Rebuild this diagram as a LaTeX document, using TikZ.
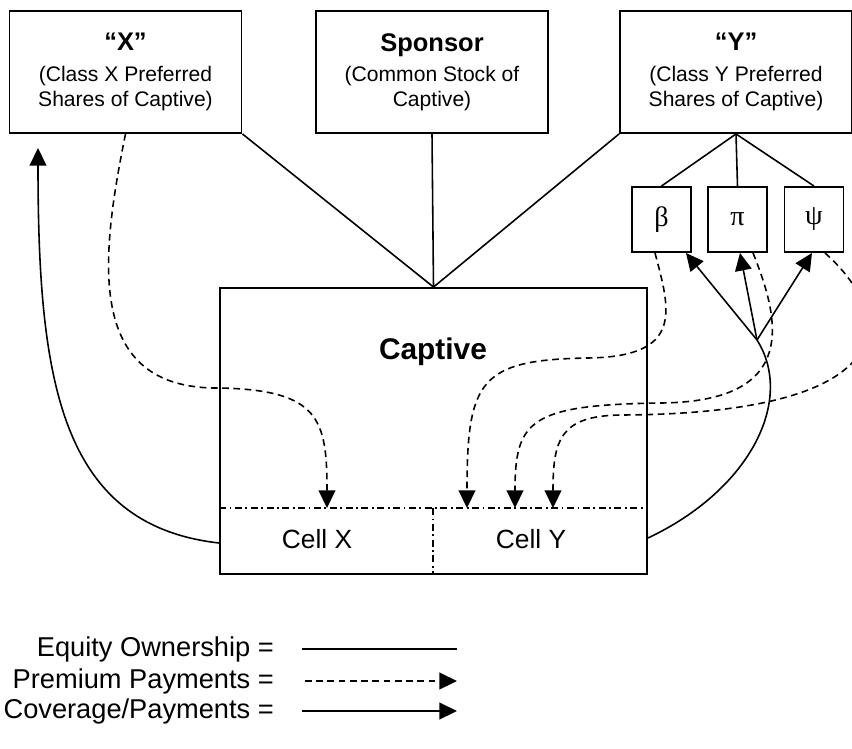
\documentclass[tikz,border=0pt]{standalone}
\usepackage{fontspec}
\setmainfont{Liberation Sans}
\newfontfamily\greekfont{Liberation Serif}
\usetikzlibrary{arrows.meta}

\tikzset{
    ownerbox/.style={draw, line width=1.1pt, minimum width=4.64cm, minimum height=2.44cm,
        align=center, font=\fontsize{12}{14.2}\selectfont},
    classbox/.style={draw, line width=1.1pt, minimum width=1.18cm, minimum height=1.3cm,
        font=\greekfont\fontsize{16}{19}\selectfont},
    equity/.style={line width=0.9pt},
    premium/.style={->, line width=0.9pt, dash pattern=on 3.8pt off 2.6pt},
    coverage/.style={->, line width=0.9pt},
    celldiv/.style={line width=0.7pt, dash pattern=on 4pt off 2pt on 1pt off 2pt},
}
\newcommand{\headfont}{\bfseries\fontsize{14.5}{17}\selectfont}

\begin{document}
\begin{tikzpicture}[x=0.02cm, y=-0.02cm, >={Triangle[length=10pt,width=9.5pt]},
        font=\fontsize{15}{18}\selectfont]
    \useasboundingbox (0,0) rectangle (852,748);

        % Owners
        \node[ownerbox] (X) at (125.5,72) {{\headfont “X”}\\[3pt] (Class X Preferred\\ Shares of Captive)};
        \node[ownerbox] (S) at (432,72) {{\headfont Sponsor}\\[3pt] (Common Stock of\\ Captive)};
        \node[ownerbox] (Y) at (736,72) {{\headfont “Y”}\\[3pt] (Class Y Preferred\\ Shares of Captive)};

        % Class Y holders
        \node[classbox] (beta) at (661.5,219.5) {β};
        \node[classbox] (pi) at (737.5,219.5) {π};
        \node[classbox] (psi) at (814,219.5) {ψ};

        % Captive and cells
        \node[draw, line width=1.1pt, minimum width=8.54cm, minimum height=5.72cm] (captive) at (433.5,431) {};
        \node[font=\bfseries\fontsize{17}{20}\selectfont] (captlab) at (433,352) {Captive};
        \coordinate (split) at (433,508);
        \draw[celldiv] (captive.west |- split) -- (captive.east |- split);
        \draw[celldiv] (split) -- (captive.south -| split);
        \node (cellX) at (317,539) {Cell X};
        \node (cellY) at (531,539) {Cell Y};

        % Equity ownership
        \draw[equity] (X.south east) -- (captive.north);
        \draw[equity] (S.south) -- (captive.north);
        \draw[equity] (Y.south west) -- (captive.north);
        \draw[equity] (Y.south) -- (beta.north);
        \draw[equity] (Y.south) -- (pi.north);
        \draw[equity] (Y.south) -- (psi.north);

        % Premium payments
        \coordinate (inX) at (327,508);
        \coordinate (inY1) at (467,508);
        \coordinate (inY2) at (515,508);
        \coordinate (inY3) at (553,508);
        \draw[premium] (X.south) .. controls (100,260) and (85,390) .. (220,388)
            .. controls (320,390) and (327,420) .. (inX);
        \draw[premium] ([xshift=-0.13cm]beta.south) .. controls (670,310) and (685,357) .. (587,358)
            .. controls (480,360) and (467,380) .. (inY1);
        \draw[premium] ([xshift=0.31cm]pi.south) .. controls (780,320) and (800,402) .. (660,403)
            .. controls (530,405) and (515,420) .. (inY2);
        \draw[premium] ([xshift=0.22cm]psi.south) .. controls (900,320) and (900,414) .. (620,415)
            .. controls (560,416) and (553,440) .. (inY3);

        % Coverage / payments
        \coordinate (outX) at (captive.west |- 0,543);
        \coordinate (backX) at (38,148);
        \draw[coverage] (outX) .. controls (60,525) and (38,380) .. (backX);
        \coordinate (outY) at (captive.east |- 0,538);
        \coordinate (fork) at (757,340);
        \draw[equity] (outY) .. controls (750,490) and (795,400) .. (fork);
        \draw[coverage] (fork) -- ([xshift=-0.12cm]beta.south east);
        \draw[coverage] (fork) -- ([xshift=0.05cm]pi.south);
        \draw[coverage] (fork) -- ([xshift=-0.04cm]psi.south);

        % Legend
        \node[anchor=east, font=\fontsize{15.5}{18}\selectfont] (legEq) at (280,649) {Equity Ownership =};
        \node[anchor=east, font=\fontsize{15.5}{18}\selectfont] (legPrem) at (280,681) {Premium Payments =};
        \node[anchor=east, font=\fontsize{15.5}{18}\selectfont] (legCov) at (280,711) {Coverage/Payments =};
        \coordinate (legEqEnd) at (457,649);
        \coordinate (legPremEnd) at (457,681);
        \coordinate (legCovEnd) at (457,711);
        \draw[equity, line width=1.4pt] ([xshift=0.44cm]legEq.east) -- (legEqEnd);
        \draw[premium] ([xshift=0.5cm]legPrem.east) -- (legPremEnd);
        \draw[coverage] ([xshift=0.44cm]legCov.east) -- (legCovEnd);

    \end{tikzpicture}
\end{document}
